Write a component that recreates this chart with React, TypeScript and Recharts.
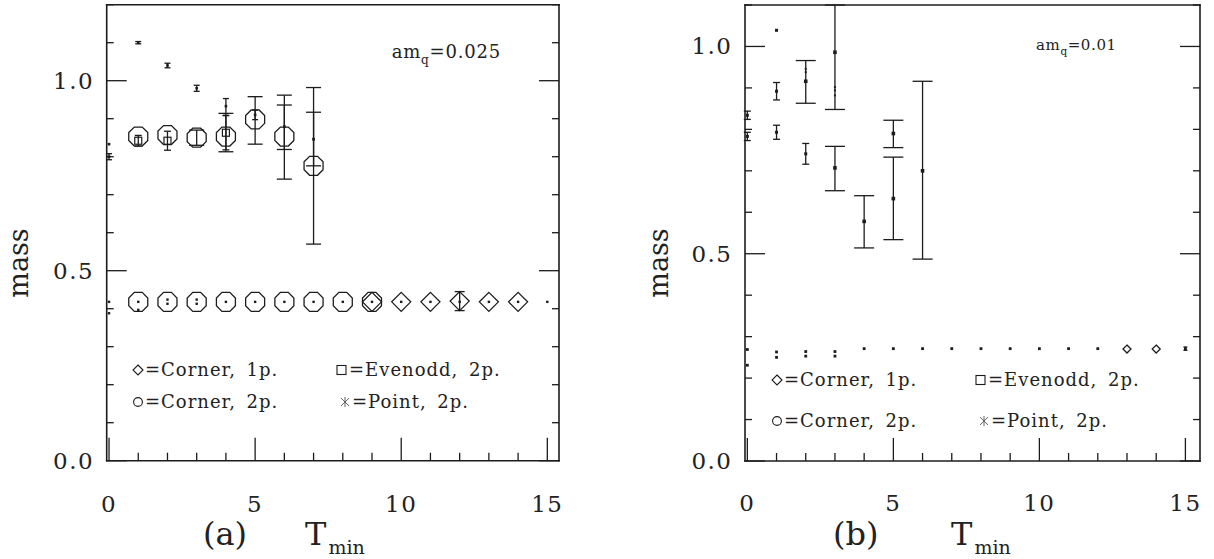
import { ErrorBar, Scatter, ScatterChart, XAxis, YAxis } from "recharts";

type Pt = { t: number; m: number; e?: number | [number, number] };

const INK = "#1c1c1c";
const FONT = "'DejaVu Serif', serif";

// ---- am_q = 0.025 ----
const cornerTwoUpperA: Pt[] = [
  { t: 1, m: 0.853 },
  { t: 2, m: 0.857 },
  { t: 3, m: 0.85, e: 0.02 },
  { t: 4, m: 0.853, e: [0.04, 0.061] },
  { t: 5, m: 0.898, e: [0.065, 0.06] },
  { t: 6, m: 0.853, e: [0.112, 0.109] },
  { t: 7, m: 0.776, e: 0.206 },
];
const evenoddUpperA: Pt[] = [
  { t: 1, m: 0.842, e: 0.014 },
  { t: 2, m: 0.842, e: 0.025 },
  { t: 4, m: 0.863, e: 0.045 },
];
const pointUpperA: Pt[] = [
  { t: 0, m: 0.833 },
  { t: 0, m: 0.8, e: 0.008 },
  { t: 1, m: 1.1, e: 0.003 },
  { t: 2, m: 1.04, e: 0.006 },
  { t: 3, m: 0.98, e: 0.008 },
  { t: 4, m: 0.933, e: 0.02 },
  { t: 5, m: 0.91, e: 0.0125 },
];
const pointLateA: Pt[] = [
  { t: 6, m: 0.879, e: [0.06, 0.057] },
  { t: 7, m: 0.846, e: [0.07, 0.071] },
];
const cornerTwoLowA: Pt[] = [
  { t: 1, m: 0.418 },
  { t: 2, m: 0.418 },
  { t: 3, m: 0.418 },
  { t: 4, m: 0.418 },
  { t: 5, m: 0.418 },
  { t: 6, m: 0.418 },
  { t: 7, m: 0.418 },
  { t: 8, m: 0.418 },
  { t: 9, m: 0.418 },
];
const cornerOneLowA: Pt[] = [
  { t: 9, m: 0.418 },
  { t: 10, m: 0.418 },
  { t: 11, m: 0.418 },
  { t: 12, m: 0.42, e: 0.025 },
  { t: 13, m: 0.418 },
  { t: 14, m: 0.418 },
];
const pointLowA: Pt[] = [
  { t: 0, m: 0.418 },
  { t: 0, m: 0.388 },
  { t: 1, m: 0.418 },
  { t: 1, m: 0.397 },
  { t: 2, m: 0.424 },
  { t: 2, m: 0.413 },
  { t: 3, m: 0.424 },
  { t: 3, m: 0.413 },
  { t: 4, m: 0.418 },
  { t: 5, m: 0.418 },
  { t: 6, m: 0.418 },
  { t: 7, m: 0.418 },
  { t: 8, m: 0.418 },
  { t: 9, m: 0.418 },
  { t: 10, m: 0.418 },
  { t: 11, m: 0.418 },
  { t: 12, m: 0.418 },
  { t: 13, m: 0.418 },
  { t: 14, m: 0.418 },
  { t: 15, m: 0.418 },
];

// ---- am_q = 0.01 ----
const pointUpperB: Pt[] = [
  { t: 0, m: 0.834, e: 0.01 },
  { t: 0, m: 0.783, e: 0.01 },
  { t: 1, m: 1.039 },
  { t: 1, m: 0.892, e: 0.021 },
  { t: 1, m: 0.793, e: 0.017 },
  { t: 2, m: 0.741, e: 0.025 },
];
const cornerTwoUpperB: Pt[] = [
  { t: 2, m: 0.916, e: [0.053, 0.05] },
  { t: 3, m: 0.986, e: [0.138, 0.114] },
  { t: 3, m: 0.707, e: [0.055, 0.052] },
  { t: 4, m: 0.578, e: [0.064, 0.062] },
  { t: 5, m: 0.79, e: [0.034, 0.032] },
  { t: 5, m: 0.633, e: [0.099, 0.1] },
  { t: 6, m: 0.7, e: [0.213, 0.216] },
];
const extraDotsB: Pt[] = [
  { t: 2, m: 0.946 },
  { t: 2, m: 0.938 },
  { t: 3, m: 0.902 },
  { t: 3, m: 0.894 },
  { t: 3, m: 0.882 },
];
const pointLowB: Pt[] = [
  { t: 0, m: 0.269 },
  { t: 0, m: 0.231 },
  { t: 1, m: 0.263 },
  { t: 1, m: 0.25 },
  { t: 2, m: 0.264 },
  { t: 2, m: 0.253 },
  { t: 3, m: 0.264 },
  { t: 3, m: 0.253 },
  { t: 4, m: 0.271 },
  { t: 5, m: 0.271 },
  { t: 6, m: 0.271 },
  { t: 7, m: 0.271 },
  { t: 8, m: 0.271 },
  { t: 9, m: 0.271 },
  { t: 10, m: 0.271 },
  { t: 11, m: 0.271 },
  { t: 12, m: 0.271 },
  { t: 15, m: 0.271, e: 0.004 },
];
const cornerOneLowB: Pt[] = [
  { t: 13, m: 0.27 },
  { t: 14, m: 0.27 },
];

// axis ticks
const tminTicks = [0, 1, 2, 3, 4, 5, 6, 7, 8, 9, 10, 11, 12, 13, 14, 15];
const tminLabels = [0, 5, 10, 15];
const massTicksA = [0, 0.1, 0.2, 0.3, 0.4, 0.5, 0.6, 0.7, 0.8, 0.9, 1.0, 1.1, 1.2];
const massTicksB = [0, 0.1, 0.2, 0.3, 0.4, 0.5, 0.6, 0.7, 0.8, 0.9, 1.0, 1.1];
const massLabels = [0, 0.5, 1.0];

const isMassLabel = (v: number) => massLabels.some((l) => Math.abs(l - v) < 1e-6);

// ---- marker shapes ----
function octagon(flat: number) {
  const R = flat / 2 / Math.cos(Math.PI / 8);
  return (p: any) => {
    const pts = Array.from({ length: 8 }, (_, k) => {
      const a = Math.PI / 8 + (k * Math.PI) / 4;
      return `${p.cx + R * Math.cos(a)},${p.cy + R * Math.sin(a)}`;
    }).join(" ");
    return <polygon points={pts} fill="none" stroke={INK} strokeWidth={1.3} />;
  };
}

function diamond(h: number) {
  return (p: any) => (
    <polygon
      points={`${p.cx},${p.cy - h} ${p.cx + h},${p.cy} ${p.cx},${p.cy + h} ${p.cx - h},${p.cy}`}
      fill="none"
      stroke={INK}
      strokeWidth={1.3}
    />
  );
}

function square(s: number) {
  return (p: any) => (
    <rect x={p.cx - s / 2} y={p.cy - s / 2} width={s} height={s} fill="none" stroke={INK} strokeWidth={1.2} />
  );
}

function dot(r: number) {
  return (p: any) => <rect x={p.cx - r} y={p.cy - r} width={2 * r} height={2 * r} fill={INK} />;
}

// ---- tick renderers (ticks point inward) ----
const tickText = { fontFamily: FONT, fontSize: 23, letterSpacing: 1.5, fill: "#222" } as const;

function bottomTick(baseline: number) {
  return (p: any) => {
    const v = p.payload.value as number;
    const major = tminLabels.includes(v);
    return (
      <g>
        <line x1={p.x} x2={p.x} y1={p.y} y2={p.y - (major ? 23 : 8)} stroke={INK} strokeWidth={1.3} />
        {major ? (
          <text x={p.x} y={baseline} textAnchor="middle" {...tickText}>
            {v}
          </text>
        ) : null}
      </g>
    );
  };
}

function topTick(p: any) {
  const major = tminLabels.includes(p.payload.value as number);
  return <line x1={p.x} x2={p.x} y1={p.y} y2={p.y + (major ? 20 : 7)} stroke={INK} strokeWidth={1.3} />;
}

function leftTick(p: any) {
  const v = p.payload.value as number;
  const major = isMassLabel(v);
  return (
    <g>
      <line x1={p.x} x2={p.x + (major ? 20 : 7)} y1={p.y} y2={p.y} stroke={INK} strokeWidth={1.3} />
      {major ? (
        <text x={p.x - 12.5} y={p.y + 8} textAnchor="end" {...tickText}>
          {v.toFixed(1)}
        </text>
      ) : null}
    </g>
  );
}

function rightTick(p: any) {
  const major = isMassLabel(p.payload.value as number);
  return <line x1={p.x} x2={p.x - (major ? 20 : 7)} y1={p.y} y2={p.y} stroke={INK} strokeWidth={1.3} />;
}

const frame = { stroke: INK, strokeWidth: 1.6, strokeLinecap: "square" as const };

// axes are 1px thick so they still render; margins below subtract that pixel
function Axes({ xMax, yMax, yTicks, baseline }: { xMax: number; yMax: number; yTicks: number[]; baseline: number }) {
  return [
    <XAxis
      key="xb"
      type="number"
      dataKey="t"
      domain={[-0.08, xMax]}
      ticks={tminTicks}
      interval={0}
      allowDataOverflow
      height={1}
      tickSize={0}
      tickMargin={0}
      tickLine={false}
      axisLine={frame}
      tick={bottomTick(baseline)}
    />,
    <XAxis
      key="xt"
      xAxisId="top"
      orientation="top"
      type="number"
      domain={[-0.08, xMax]}
      ticks={tminTicks}
      interval={0}
      allowDataOverflow
      height={1}
      tickSize={0}
      tickMargin={0}
      tickLine={false}
      axisLine={frame}
      tick={topTick}
    />,
    <YAxis
      key="yl"
      type="number"
      dataKey="m"
      domain={[0, yMax]}
      ticks={yTicks}
      interval={0}
      allowDataOverflow
      width={1}
      tickSize={0}
      tickMargin={0}
      tickLine={false}
      axisLine={frame}
      tick={leftTick}
    />,
    <YAxis
      key="yr"
      yAxisId="right"
      orientation="right"
      type="number"
      domain={[0, yMax]}
      ticks={yTicks}
      interval={0}
      allowDataOverflow
      width={1}
      tickSize={0}
      tickMargin={0}
      tickLine={false}
      axisLine={frame}
      tick={rightTick}
    />,
  ];
}

function series(name: string, data: Pt[], shape: (p: any) => any, capHalf?: number) {
  return (
    <Scatter key={name} name={name} data={data} shape={shape} isAnimationActive={false}>
      {capHalf ? (
        <ErrorBar dataKey="e" direction="y" width={capHalf} stroke={INK} strokeWidth={1.3} />
      ) : null}
    </Scatter>
  );
}

function LegendBlock({ x1, x2, y1, y2 }: { x1: number; x2: number; y1: number; y2: number }) {
  const txt = { fontFamily: FONT, fontSize: 18, letterSpacing: 1, wordSpacing: 4, fill: "#222" } as const;
  return (
    <g>
      <polygon
        points={`${x1 + 5},${y1 - 11} ${x1 + 10},${y1 - 6} ${x1 + 5},${y1 - 1} ${x1},${y1 - 6}`}
        fill="none"
        stroke={INK}
        strokeWidth={1.1}
      />
      <text x={x1 + 12} y={y1} {...txt}>=Corner, 1p.</text>
      <rect x={x2} y={y1 - 10.5} width={9} height={9} fill="none" stroke={INK} strokeWidth={1.1} />
      <text x={x2 + 12} y={y1} {...txt}>=Evenodd, 2p.</text>
      <circle cx={x1 + 5} cy={y2 - 6} r={4.4} fill="none" stroke={INK} strokeWidth={1.1} />
      <text x={x1 + 12} y={y2} {...txt}>=Corner, 2p.</text>
      <g stroke="#555" strokeWidth={0.9}>
        <line x1={x2 + 4} x2={x2 + 12} y1={y2 - 10} y2={y2 - 2} />
        <line x1={x2 + 12} x2={x2 + 4} y1={y2 - 10} y2={y2 - 2} />
        <line x1={x2 + 8} x2={x2 + 8} y1={y2 - 11} y2={y2 - 1} />
      </g>
      <text x={x2 + 15} y={y2} {...txt}>=Point, 2p.</text>
    </g>
  );
}

export default function App() {
  return (
    <div style={{ position: "absolute", left: 0, top: 0, width: 1214, height: 559, background: "#fff" }}>
      <div style={{ position: "absolute", left: 0, top: 0 }}>
        <ScatterChart width={600} height={559} margin={{ top: 3.7, right: 40, bottom: 97.3, left: 105.7 }}>
          {Axes({ xMax: 15.4, yMax: 1.2, yTicks: massTicksA, baseline: 512 })}
          {series("cornerTwoUpperA", cornerTwoUpperA, octagon(19), 7.5)}
          {series("evenoddUpperA", evenoddUpperA, square(7), 3.5)}
          {series("pointUpperA", pointUpperA, dot(1.3), 3)}
          {series("pointLateA", pointLateA, dot(1.4), 7.5)}
          {series("cornerTwoLowA", cornerTwoLowA, octagon(19))}
          {series("cornerOneLowA", cornerOneLowA, diamond(9.5), 5)}
          {series("pointLowA", pointLowA, dot(1.2))}
        </ScatterChart>
      </div>
      <div style={{ position: "absolute", left: 640, top: 0 }}>
        <ScatterChart width={574} height={559} margin={{ top: 4, right: 13, bottom: 97, left: 104 }}>
          {Axes({ xMax: 15.5, yMax: 1.1, yTicks: massTicksB, baseline: 510.5 })}
          {series("pointUpperB", pointUpperB, dot(1.5), 3.5)}
          {series("cornerTwoUpperB", cornerTwoUpperB, dot(1.8), 10)}
          {series("extraDotsB", extraDotsB, dot(1))}
          {series("pointLowB", pointLowB, dot(1.4), 2)}
          {series("cornerOneLowB", cornerOneLowB, diamond(4))}
        </ScatterChart>
      </div>
      <svg
        width={1214}
        height={559}
        style={{ position: "absolute", left: 0, top: 0, pointerEvents: "none" }}
        fontFamily={FONT}
        fill="#222"
      >
        {/* panel (a) */}
        <text transform="translate(27.5,263) rotate(-90)" textAnchor="middle" fontSize={27}>
          mass
        </text>
        <text x={203} y={545} fontSize={32}>(a)</text>
        <text x={305} y={545} fontSize={32}>T</text>
        <text x={328.5} y={553.5} fontSize={19}>min</text>
        <text x={391.7} y={58.3} fontSize={18} letterSpacing={0.8}>
          am
          <tspan fontSize={12} dy={6}>q</tspan>
          <tspan fontSize={18} dy={-6}>=0.025</tspan>
        </text>
        <LegendBlock x1={133} x2={337} y1={376} y2={408} />

        {/* panel (b) */}
        <text transform="translate(668,263) rotate(-90)" textAnchor="middle" fontSize={27}>
          mass
        </text>
        <text x={833} y={545} fontSize={32}>(b)</text>
        <text x={951} y={545} fontSize={32}>T</text>
        <text x={974.5} y={553.5} fontSize={19}>min</text>
        <text x={1036} y={50} fontSize={15} letterSpacing={0.6}>
          am
          <tspan fontSize={10.5} dy={5}>q</tspan>
          <tspan fontSize={15} dy={-5}>=0.01</tspan>
        </text>
        <LegendBlock x1={772} x2={976} y1={386} y2={427} />
      </svg>
    </div>
  );
}
